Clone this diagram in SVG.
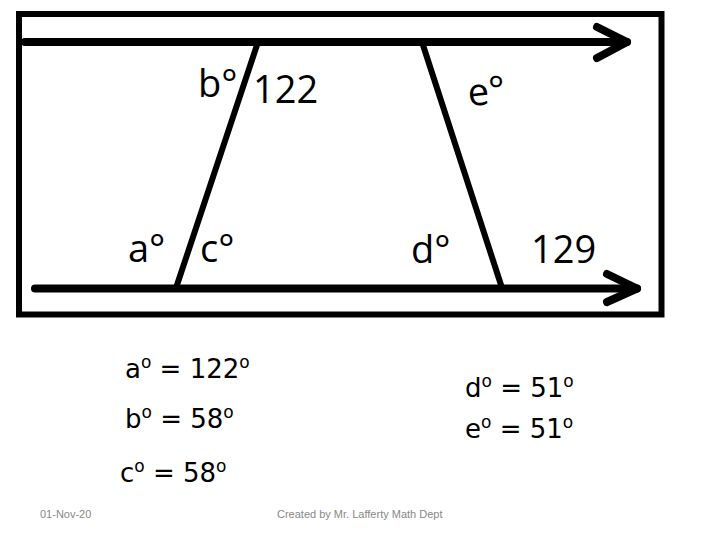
<svg xmlns="http://www.w3.org/2000/svg" width="720" height="540" viewBox="0 0 720 540">
<style>
.ln{stroke:#000;fill:none;stroke-linecap:round;stroke-linejoin:round}
.lbl{font-family:"Open Sans","Noto Sans",sans-serif;font-size:38px;fill:#000}
.eq{font-family:"DejaVu Sans","Liberation Sans",sans-serif;font-size:26px;fill:#000}
.sup{font-size:17px}
.ft{font-family:"Liberation Sans",sans-serif;font-size:11px;fill:#888}
</style>
<rect width="720" height="540" fill="#fff"/>
<g id="frame"><rect x="19" y="14" width="642.5" height="300.5" fill="none" stroke="#000" stroke-width="6"/></g>
<g id="connectors">
<path class="ln" d="M25 42 H627" stroke-width="8" stroke-linecap="butt"/>
<path class="ln" d="M597 27 L627 42 L597 58" stroke-width="8"/>
<path class="ln" d="M35 288.5 H637" stroke-width="8" stroke-linecap="butt"/>
<path class="ln" d="M607 274 L637 288.5 L607 302" stroke-width="8"/>
<path class="ln" d="M258 42 L176 288" stroke-width="6" stroke-linecap="butt"/>
<path class="ln" d="M422 42 L502 288" stroke-width="6" stroke-linecap="butt"/>
</g>
<g id="labels">
<text class="lbl" x="198" y="97">b°</text>
<text class="lbl" x="253" y="103">122</text>
<text class="lbl" x="468" y="105" transform="rotate(-6 480 95)">e°</text>
<text class="lbl" x="128" y="262">a°</text>
<text class="lbl" x="200" y="262">c°</text>
<text class="lbl" x="411" y="263">d°</text>
<text class="lbl" x="531" y="263">129</text>
</g>
<g id="equations">
<text class="eq" x="125" y="378">a<tspan class="sup" dy="-10">o</tspan><tspan dy="10"> = 122</tspan><tspan class="sup" dy="-10">o</tspan></text>
<text class="eq" x="125" y="428">b<tspan class="sup" dy="-10">o</tspan><tspan dy="10"> = 58</tspan><tspan class="sup" dy="-10">o</tspan></text>
<text class="eq" x="120" y="482">c<tspan class="sup" dy="-10">o</tspan><tspan dy="10"> = 58</tspan><tspan class="sup" dy="-10">o</tspan></text>
<text class="eq" x="465" y="397">d<tspan class="sup" dy="-10">o</tspan><tspan dy="10"> = 51</tspan><tspan class="sup" dy="-10">o</tspan></text>
<text class="eq" x="465" y="438">e<tspan class="sup" dy="-10">o</tspan><tspan dy="10"> = 51</tspan><tspan class="sup" dy="-10">o</tspan></text>
</g>
<g id="footer">
<text class="ft" x="40" y="518">01-Nov-20</text>
<text class="ft" x="277" y="518">Created by Mr. Lafferty Math Dept</text>
</g>
</svg>
